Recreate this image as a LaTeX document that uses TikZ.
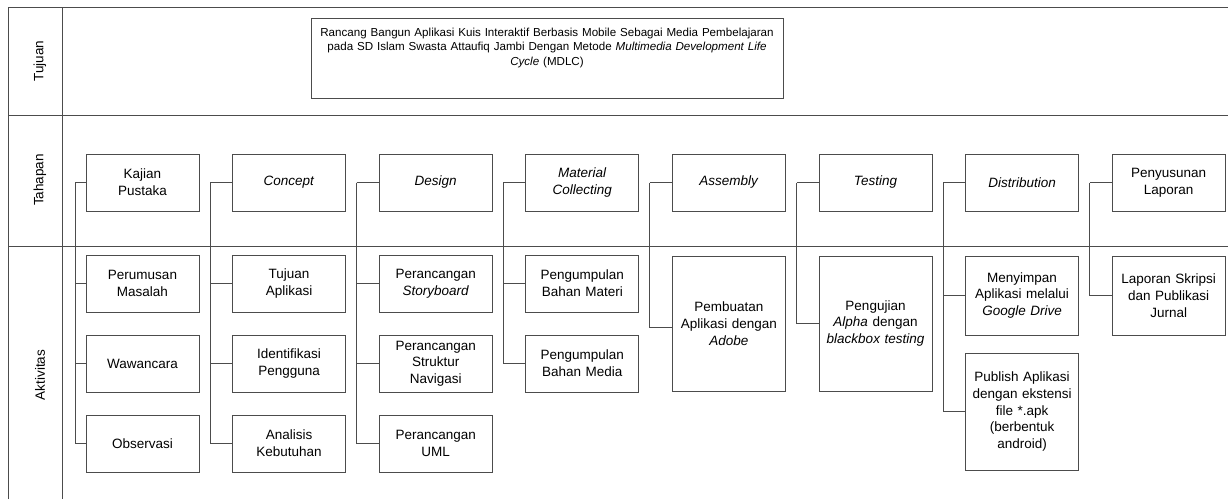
\documentclass[tikz,border=0pt]{standalone}
\usepackage{fontspec}
\setmainfont{Liberation Sans}
\newcommand{\isi}{\fontsize{13.5}{16.7}\selectfont}
\newcommand{\judul}{\fontsize{11.6}{14.5}\selectfont}

\begin{document}
\begin{tikzpicture}[x=1pt, y=1pt, node distance=146.6pt, auto,
	garis/.style={draw=black!70, line width=1pt},
	kotak/.style={draw=black!70, line width=1pt, minimum width=113pt, minimum height=57pt,
		text width=110pt, inner sep=0pt, align=center, font=\isi}]
	\useasboundingbox (0,0) rectangle (1228,-499);
	\draw[garis] (8,-499) -- (8,-7) -- (1228,-7);
	\draw[garis] (62,-7) -- (62,-499);
	\draw[garis] (8,-115) -- (1228,-115);
	\draw[garis] (8,-246) -- (1228,-246);

	\node[rotate=90, font=\isi] (tujuan) at (40,-61) {Tujuan};
	\node[rotate=90, font=\isi] (tahapan) at (40,-180) {Tahapan};
	\node[rotate=90, font=\isi] (aktivitas) at (40,-375) {Aktivitas};

	\node[kotak, minimum width=472pt, minimum height=80pt, text width=466pt, text height=9pt, text depth=53pt, font=\judul] (mdlc) at (547,-58)
		{Rancang Bangun Aplikasi Kuis Interaktif Berbasis Mobile Sebagai Media Pembelajaran\\
		pada SD Islam Swasta Attaufiq Jambi Dengan Metode \textit{Multimedia Development Life}\\
		\textit{Cycle} (MDLC)};

	\node[kotak] (kajian) at (142.5,-182.5) {Kajian\\Pustaka};
	\node[kotak, right of=kajian] (concept) {\textit{Concept}};
	\node[kotak, right of=concept] (design) {\textit{Design}};
	\node[kotak, right of=design] (material) {\textit{Material}\\\textit{Collecting}};
	\node[kotak, right of=material] (assembly) {\textit{Assembly}};
	\node[kotak, right of=assembly] (testing) {\textit{Testing}};
	\node[kotak, right of=testing] (distribution) {\textit{Distribution}};
	\node[kotak, right of=distribution] (laporan) {Penyusunan\\Laporan};

	\coordinate[left of=kajian, node distance=67.5pt] (vkajian);
    \draw[garis] (kajian) -- (vkajian);
	\node[kotak, below of=kajian, node distance=101pt] (rumusan) {Perumusan\\Masalah};
    \draw[garis] (vkajian) |- (rumusan);
	\node[kotak, below of=rumusan, node distance=80pt] (wawancara) {Wawancara};
    \draw[garis] (vkajian) |- (wawancara);
	\node[kotak, below of=wawancara, node distance=80pt] (observasi) {Observasi};
    \draw[garis] (vkajian) |- (observasi);

	\coordinate[left of=concept, node distance=79pt] (vconcept);
    \draw[garis] (concept) -- (vconcept);
	\node[kotak, below of=concept, node distance=101pt] (tujuanapp) {Tujuan\\Aplikasi};
    \draw[garis] (vconcept) |- (tujuanapp);
	\node[kotak, below of=tujuanapp, node distance=80pt] (pengguna) {Identifikasi\\Pengguna};
    \draw[garis] (vconcept) |- (pengguna);
	\node[kotak, below of=pengguna, node distance=80pt] (kebutuhan) {Analisis\\Kebutuhan};
    \draw[garis] (vconcept) |- (kebutuhan);

	\coordinate[left of=design, node distance=79pt] (vdesign);
    \draw[garis] (design) -- (vdesign);
	\node[kotak, below of=design, node distance=101pt] (storyboard) {Perancangan\\\textit{Storyboard}};
    \draw[garis] (vdesign) |- (storyboard);
	\node[kotak, below of=storyboard, node distance=80pt] (navigasi) {Perancangan\\Struktur\\Navigasi};
    \draw[garis] (vdesign) |- (navigasi);
	\node[kotak, below of=navigasi, node distance=80pt] (uml) {Perancangan\\UML};
    \draw[garis] (vdesign) |- (uml);

	\coordinate[left of=material, node distance=79pt] (vmaterial);
    \draw[garis] (material) -- (vmaterial);
	\node[kotak, below of=material, node distance=101pt] (materi) {Pengumpulan\\Bahan Materi};
    \draw[garis] (vmaterial) |- (materi);
	\node[kotak, below of=materi, node distance=80pt] (media) {Pengumpulan\\Bahan Media};
    \draw[garis] (vmaterial) |- (media);

	\coordinate[left of=assembly, node distance=79pt] (vassembly);
    \draw[garis] (assembly) -- (vassembly);
	\node[kotak, below of=assembly, node distance=141pt, minimum height=135pt] (pembuatan) {Pembuatan\\Aplikasi dengan\\\textit{Adobe}};
    \draw[garis] (vassembly) |- ([yshift=-4pt]pembuatan.west);

	\coordinate[left of=testing, node distance=79pt] (vtesting);
    \draw[garis] (testing) -- (vtesting);
	\node[kotak, below of=testing, node distance=141pt, minimum height=135pt] (pengujian) {Pengujian\\\textit{Alpha} dengan\\\textit{blackbox testing}};
    \draw[garis] (vtesting) |- (pengujian);

	\coordinate[left of=distribution, node distance=79pt] (vdistribution);
    \draw[garis] (distribution) -- (vdistribution);
	\node[kotak, below of=distribution, node distance=113pt, minimum height=79pt] (drive) {Menyimpan\\Aplikasi melalui\\\textit{Google Drive}};
    \draw[garis] (vdistribution) |- (drive);
	\node[kotak, below of=drive, node distance=116pt, minimum height=117pt] (publish) {Publish Aplikasi\\dengan ekstensi\\file *.apk\\(berbentuk\\android)};
    \draw[garis] (vdistribution) |- (publish);

	\coordinate[left of=laporan, node distance=79pt] (vlaporan);
    \draw[garis] (laporan) -- (vlaporan);
	\node[kotak, below of=laporan, node distance=113pt, minimum height=79pt] (skripsi) {Laporan Skripsi\\dan Publikasi\\Jurnal};
    \draw[garis] (vlaporan) |- (skripsi);
\end{tikzpicture}
\end{document}
